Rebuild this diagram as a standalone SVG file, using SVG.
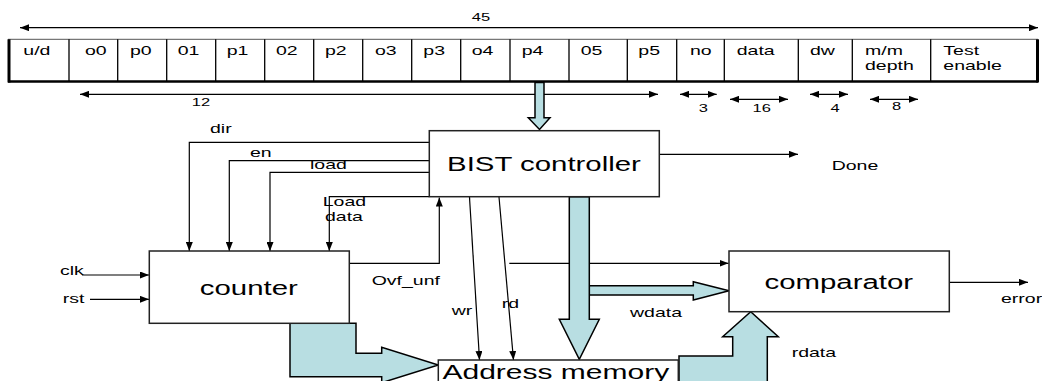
<svg xmlns="http://www.w3.org/2000/svg" width="1042" height="381" viewBox="0 0 1042 381">
<defs>
<marker id="ah" markerUnits="userSpaceOnUse" markerWidth="9" markerHeight="7" refX="9" refY="3.5" orient="auto-start-reverse"><path d="M0,0 L9,3.5 L0,7 z" fill="#000"/></marker>
<style>
text{font-family:"Liberation Sans",Arial,sans-serif;fill:#000}
.s{font-size:13px}
.n{font-size:11px}
.b{font-size:20px}
.ln{fill:none;stroke:#000;stroke-width:1.2}
.box{fill:#fff;stroke:#222;stroke-width:1.5}
.bus{fill:#B8DEE2;stroke:#000;stroke-width:1.5;stroke-linejoin:miter}
.cell{fill:none;stroke:#000;stroke-width:1.3}
</style>
</defs>
<rect width="1042" height="381" fill="#fff"/>

<g id="register">
<rect x="8" y="39.3" width="1030" height="42.4" fill="#fff" stroke="none"/>
<line x1="8" y1="39.3" x2="1038" y2="39.3" stroke="#555" stroke-width="1"/>
<line x1="8" y1="81.5" x2="1038" y2="81.5" stroke="#000" stroke-width="2.5"/>
<line x1="9" y1="39.3" x2="9" y2="82.5" stroke="#000" stroke-width="3"/>
<line x1="1037.5" y1="39.3" x2="1037.5" y2="82.5" stroke="#000" stroke-width="3"/>
<path class="cell" d="M69,39.3V81.7M117.7,39.3V81.7M166.7,39.3V81.7M215.7,39.3V81.7M264.7,39.3V81.7M313.7,39.3V81.7M362.7,39.3V81.7M411.7,39.3V81.7M460.7,39.3V81.7M510,39.3V81.7M569,39.3V81.7M627.3,39.3V81.7M676.7,39.3V81.7M724.3,39.3V81.7M798.3,39.3V81.7M852.3,39.3V81.7M930.7,39.3V81.7"/>
<text class="s" transform="translate(23.3,55) scale(1.5,1)">u/d</text>
<text class="s" transform="translate(85,55) scale(1.5,1)">o0</text>
<text class="s" transform="translate(130,55) scale(1.5,1)">p0</text>
<text class="s" transform="translate(177.7,55) scale(1.5,1)">01</text>
<text class="s" transform="translate(226.7,55) scale(1.5,1)">p1</text>
<text class="s" transform="translate(276,55) scale(1.5,1)">02</text>
<text class="s" transform="translate(325,55) scale(1.5,1)">p2</text>
<text class="s" transform="translate(375,55) scale(1.5,1)">o3</text>
<text class="s" transform="translate(423.3,55) scale(1.5,1)">p3</text>
<text class="s" transform="translate(471.7,55) scale(1.5,1)">o4</text>
<text class="s" transform="translate(521.7,55) scale(1.5,1)">p4</text>
<text class="s" transform="translate(580.7,55) scale(1.5,1)">05</text>
<text class="s" transform="translate(638.3,55) scale(1.5,1)">p5</text>
<text class="s" transform="translate(690,55) scale(1.5,1)">no</text>
<text class="s" transform="translate(736.7,55) scale(1.5,1)">data</text>
<text class="s" transform="translate(810,55) scale(1.5,1)">dw</text>
<text class="s" transform="translate(865,55) scale(1.5,1)">m/m</text>
<text class="s" transform="translate(865,70) scale(1.5,1)">depth</text>
<text class="s" transform="translate(943.3,55) scale(1.5,1)">Test</text>
<text class="s" transform="translate(943.3,70) scale(1.5,1)">enable</text>
</g>

<g id="dimensions">
<line class="ln" x1="20" y1="27.7" x2="1038" y2="27.7" marker-start="url(#ah)" marker-end="url(#ah)"/>
<text class="n" text-anchor="middle" transform="translate(481,21) scale(1.5,1)">45</text>
<line class="ln" x1="80" y1="94.3" x2="658" y2="94.3" stroke="#333" marker-start="url(#ah)" marker-end="url(#ah)"/>
<text class="n" text-anchor="middle" transform="translate(201,106) scale(1.5,1)">12</text>
<line class="ln" x1="680" y1="94.3" x2="716.7" y2="94.3" marker-start="url(#ah)" marker-end="url(#ah)"/>
<text class="n" text-anchor="middle" transform="translate(703.3,112) scale(1.5,1)">3</text>
<line class="ln" x1="730" y1="99.3" x2="788" y2="99.3" marker-start="url(#ah)" marker-end="url(#ah)"/>
<text class="n" text-anchor="middle" transform="translate(761.7,112) scale(1.5,1)">16</text>
<line class="ln" x1="810" y1="94.3" x2="848" y2="94.3" marker-start="url(#ah)" marker-end="url(#ah)"/>
<text class="n" text-anchor="middle" transform="translate(835,112) scale(1.5,1)">4</text>
<line class="ln" x1="870" y1="99.3" x2="918" y2="99.3" marker-start="url(#ah)" marker-end="url(#ah)"/>
<text class="n" text-anchor="middle" transform="translate(896.7,110) scale(1.5,1)">8</text>
</g>

<g id="connectors">
<polygon class="bus" points="535,82.5 544,82.5 544,117.7 550,117.7 539.5,129.5 528.3,117.7 535,117.7"/>
<polyline class="ln" points="429.3,142.3 189.3,142.3 189.3,251" marker-end="url(#ah)"/>
<polyline class="ln" points="429.3,160.7 229.3,160.7 229.3,251" marker-end="url(#ah)"/>
<polyline class="ln" points="429.3,172.3 270,172.3 270,251" marker-end="url(#ah)"/>
<polyline class="ln" points="429.3,196.7 329.3,196.7 329.3,251" marker-end="url(#ah)"/>
<polyline class="ln" points="349.3,263.3 439.3,263.3 439.3,197.5" marker-end="url(#ah)"/>
<line class="ln" x1="82" y1="275" x2="149" y2="275" marker-end="url(#ah)"/>
<line class="ln" x1="90" y1="299.3" x2="149" y2="299.3" marker-end="url(#ah)"/>
<line class="ln" x1="659.3" y1="154.3" x2="798" y2="154.3" marker-end="url(#ah)"/>
<line class="ln" x1="949.3" y1="282.3" x2="1028" y2="282.3" marker-end="url(#ah)"/>
<line class="ln" x1="509.3" y1="263.3" x2="728.5" y2="263.3" marker-end="url(#ah)"/>
<line class="ln" x1="469.5" y1="197" x2="479.5" y2="360" marker-end="url(#ah)"/>
<line class="ln" x1="499" y1="197" x2="513.5" y2="360" marker-end="url(#ah)"/>
<polygon class="bus" points="589.3,285.7 693.3,285.7 693.3,281.7 729,290.7 693.3,300 693.3,295 589.3,295"/>
<polygon class="bus" points="569.3,196.7 589.3,196.7 589.3,319.3 599.3,319.3 579.3,359.3 559.3,319.3 569.3,319.3"/>
<polygon class="bus" points="290,323.3 356,323.3 356,353.3 381.7,353.3 381.7,347.3 438.3,365 381.7,382.7 381.7,376.7 290,376.7"/>
<polygon class="bus" points="679,395 679,356 732.7,356 732.7,336.7 722.7,336.7 750.7,311.7 778.3,336.7 767.3,336.7 767.3,395"/>
<text class="s" transform="translate(210,133.3) scale(1.5,1)">dir</text>
<text class="s" transform="translate(250,157.3) scale(1.5,1)">en</text>
<text class="s" transform="translate(310,169.3) scale(1.5,1)">load</text>
<text class="s" transform="translate(322.7,206) scale(1.5,1)">Load</text>
<text class="s" transform="translate(325,220.7) scale(1.5,1)">data</text>
<text class="s" transform="translate(60,275) scale(1.5,1)">clk</text>
<text class="s" transform="translate(62.7,303.3) scale(1.5,1)">rst</text>
<text class="s" transform="translate(371.7,285) scale(1.5,1)">Ovf_unf</text>
<text class="s" transform="translate(451.7,315) scale(1.5,1)">wr</text>
<text class="s" transform="translate(501.7,308.3) scale(1.5,1)">rd</text>
<text class="s" transform="translate(630,317.3) scale(1.5,1)">wdata</text>
<text class="s" transform="translate(791.7,357.3) scale(1.5,1)">rdata</text>
<text class="s" transform="translate(831.7,170) scale(1.5,1)">Done</text>
<text class="s" transform="translate(1001,302.7) scale(1.5,1)">error</text>
</g>

<g id="bist">
<rect class="box" x="429.3" y="130.7" width="230" height="66"/>
<text class="b" text-anchor="middle" transform="translate(544,171) scale(1.47,1)">BIST controller</text>
</g>
<g id="counter">
<rect class="box" x="149.3" y="251" width="200" height="72.3"/>
<text class="b" text-anchor="middle" transform="translate(248.8,295) scale(1.47,1)">counter</text>
</g>
<g id="comparator">
<rect class="box" x="729" y="251" width="220.3" height="60.7"/>
<text class="b" text-anchor="middle" transform="translate(838.8,289) scale(1.47,1)">comparator</text>
</g>
<g id="memory">
<rect class="box" x="438.3" y="360" width="240" height="40"/>
<text class="b" text-anchor="middle" transform="translate(555.8,379) scale(1.5,1)">Address memory</text>
</g>
</svg>
